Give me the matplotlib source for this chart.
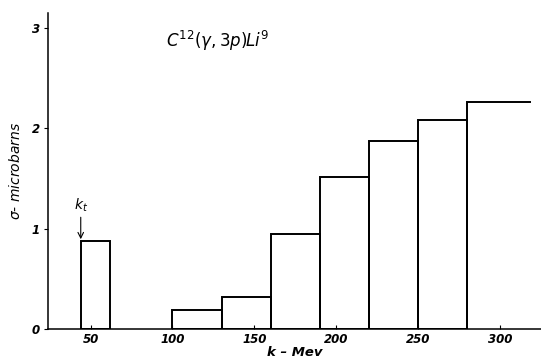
import numpy as np
import matplotlib.pyplot as plt

# bins in photon energy k (Mev) and cross section (microbarns)
bin_left = [44, 100, 130, 160, 190, 220, 250, 280]
bin_right = [62, 130, 160, 190, 220, 250, 280, 318]
sigma = [0.88, 0.19, 0.32, 0.945, 1.515, 1.87, 2.08, 2.26]

x_ticks = [50, 100, 150, 200, 250, 300]
x_tick_labels = ["50", "100", "150", "200", "250", "300"]
y_ticks = [0, 1, 2, 3]
y_tick_labels = ["0", "1", "2", "3"]

fig = plt.figure(figsize=(5.41, 3.6), dpi=100)
ax = fig.add_axes([0.0887, 0.0861, 0.9113, 0.879])

left = np.array(bin_left)
right = np.array(bin_right)
width = right - left

# all closed bins as open rectangles
ax.bar(left[:-1], sigma[:-1], width=width[:-1], align="edge",
       fill=False, edgecolor="black", linewidth=1.4)
# last bin is drawn without its right side
ax.plot([left[-1], left[-1], right[-1]], [0, sigma[-1], sigma[-1]],
        color="black", linewidth=1.4, solid_joinstyle="miter")

# threshold marker
ax.annotate(r"$k_t$", xy=(left[0], sigma[0]), xytext=(left[0], sigma[0] + 0.26),
            ha="center", va="bottom", fontsize=10,
            arrowprops=dict(arrowstyle="->", color="black", lw=0.8,
                            shrinkA=0, shrinkB=1))

ax.text(0.24, 0.91, r"$C^{12}(\gamma,3p)Li^{9}$", transform=ax.transAxes,
        fontsize=12, ha="left", va="center")

ax.set_xlim(24, 325)
ax.set_ylim(0, 3.15)
ax.set_xticks(x_ticks, x_tick_labels)
ax.set_yticks(y_ticks, y_tick_labels)
ax.tick_params(axis="x", direction="in", length=3, width=0.8, pad=3, labelsize=8.5)
ax.tick_params(axis="y", direction="out", length=3, width=0.8, pad=3, labelsize=8.5)
for lab in ax.get_xticklabels() + ax.get_yticklabels():
    lab.set_fontstyle("italic")
    lab.set_fontweight("bold")

for side in ["top", "right"]:
    ax.spines[side].set_visible(False)
for side in ["left", "bottom"]:
    ax.spines[side].set_linewidth(1.1)

ax.set_xlabel("k – Mev", fontsize=9.5, fontstyle="italic", fontweight="bold", labelpad=0)
ax.set_ylabel(r"$\sigma$- microbarns", fontsize=10, fontstyle="italic", labelpad=6)

fig.savefig("out.png", dpi=100)
